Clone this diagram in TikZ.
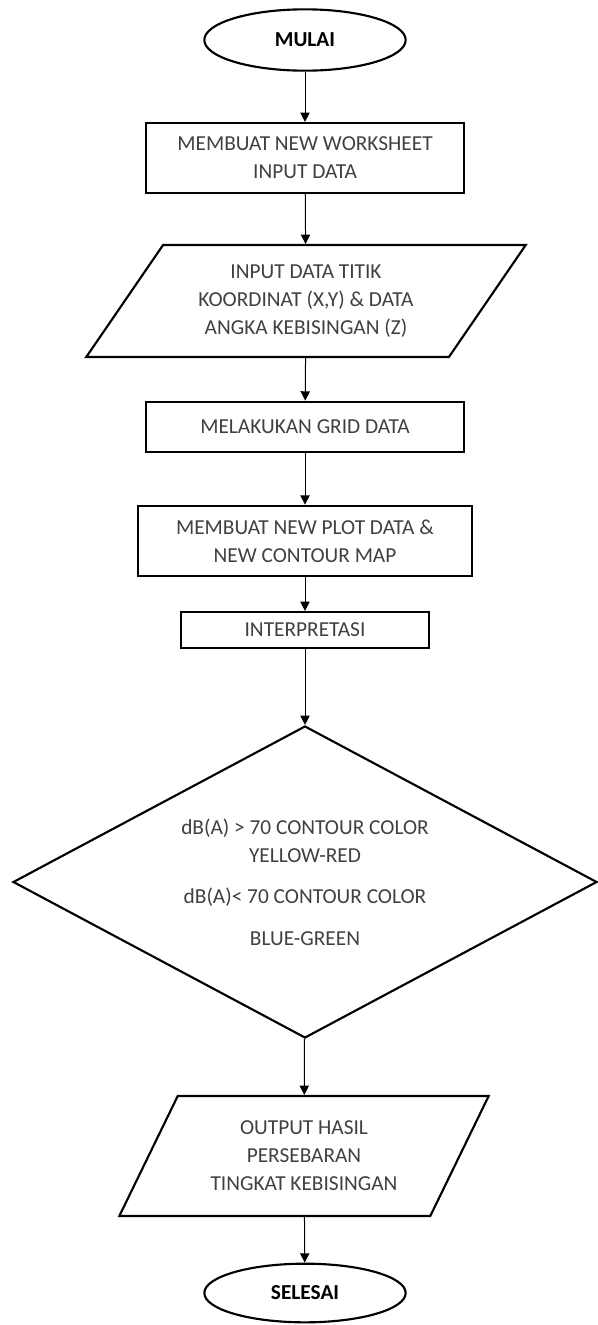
\documentclass[tikz,border=0pt]{standalone}
\usepackage{fontspec}
\setmainfont{Carlito}
\usetikzlibrary{shapes.geometric,arrows.meta}

\begin{document}
\begin{tikzpicture}[x=0.75pt,y={(0,-0.75pt)},
  every node/.style={font=\fontsize{16}{21}\selectfont, text=black!75, align=center},
  terminal/.style={ellipse, draw, line width=1.6pt, minimum width=151pt, minimum height=46pt, text=black, font=\fontsize{16}{21}\selectfont\bfseries},
  process/.style={rectangle, draw, line width=1.6pt, inner sep=0pt},
  io/.style={trapezium, draw, line width=1.6pt, trapezium stretches=true, inner sep=0pt},
  decision/.style={diamond, draw, line width=1.6pt, inner sep=0pt, aspect=1.87, minimum width=438pt, minimum height=234pt},
  flow/.style={-{Triangle[width=7pt,length=7pt]}, line width=0.75pt}]
\useasboundingbox (0,0) rectangle (598,1325);

\node[terminal] (mulai) at (305,40) {MULAI};
\node[process, minimum width=238.5pt, minimum height=52.5pt] (worksheet) at (305,158) {MEMBUAT NEW WORKSHEET\\ INPUT DATA};
\node[io, trapezium left angle=51.5, trapezium right angle=128.5, minimum width=330pt, minimum height=84pt] (inputdata) at (306,301) {INPUT DATA TITIK\\ KOORDINAT (X,Y) \& DATA\\ ANGKA KEBISINGAN (Z)};
\node[process, minimum width=238.5pt, minimum height=38pt] (grid) at (305,427) {MELAKUKAN GRID DATA};
\node[process, minimum width=251pt, minimum height=53pt] (plot) at (305,541) {MEMBUAT NEW PLOT DATA \&\\ NEW CONTOUR MAP};
\node[process, minimum width=186pt, minimum height=27pt] (interp) at (305,630) {INTERPRETASI};
\node[decision] (warna) at (305,882) {dB(A) > 70 CONTOUR COLOR\\ YELLOW-RED\\[10pt] dB(A)< 70 CONTOUR COLOR\\[10pt] BLUE-GREEN};
\node[io, trapezium left angle=58.3, trapezium right angle=121.7, minimum width=277.5pt, minimum height=90pt] (output) at (304,1156) {OUTPUT HASIL\\ PERSEBARAN\\ TINGKAT KEBISINGAN};
\node[terminal, minimum height=44pt] (selesai) at (305,1293) {SELESAI};

\draw[flow] (mulai) -- (worksheet);
\draw[flow] (worksheet) -- (inputdata);
\draw[flow] (inputdata) -- (grid);
\draw[flow] (grid) -- (plot);
\draw[flow] (plot) -- (interp);
\draw[flow] (interp) -- (warna);
\draw[flow] (warna) -- (output);
\draw[flow] (output) -- (selesai);
\end{tikzpicture}
\end{document}
